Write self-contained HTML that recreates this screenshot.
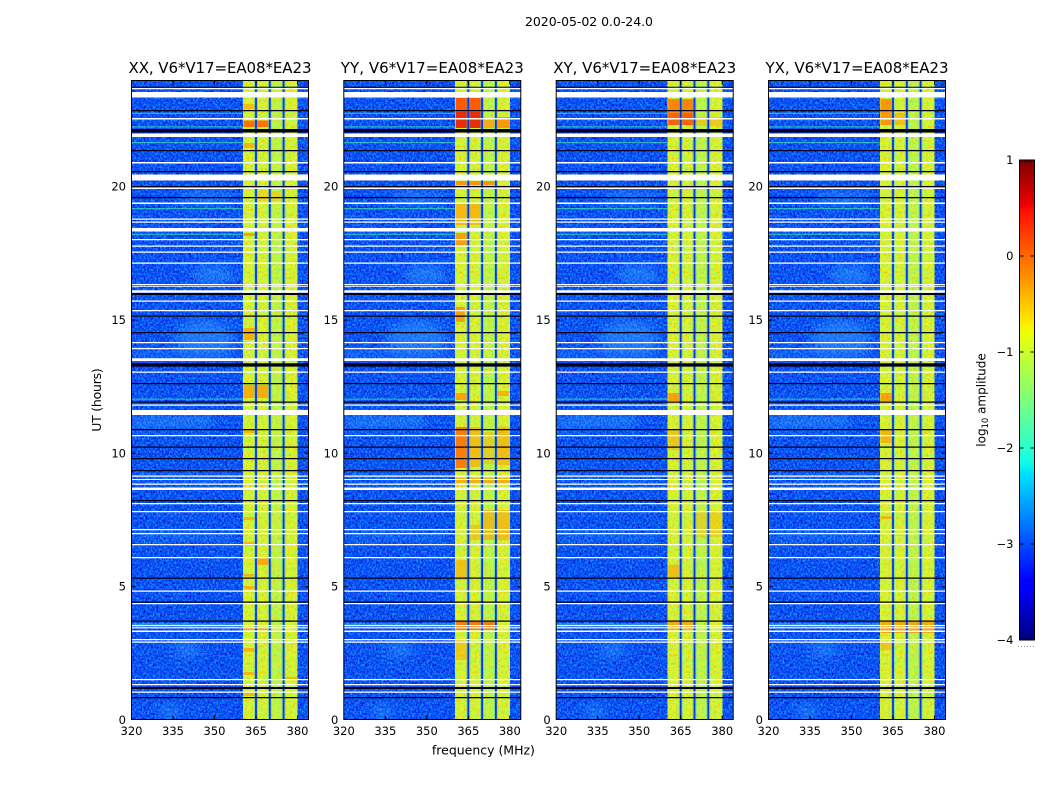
<!DOCTYPE html>
<html>
<head>
<meta charset="utf-8">
<style>
html,body{margin:0;padding:0;background:#fff;}
svg{display:block;}
text{font-family:"DejaVu Sans","Liberation Sans",sans-serif;}
</style>
</head>
<body>
<svg width="1050" height="800" viewBox="0 0 1050 800" xmlns="http://www.w3.org/2000/svg">
<defs>
  <clipPath id="cp"><rect x="0" y="80" width="177" height="640"/></clipPath>
  <filter id="fb" x="0" y="0" width="1" height="1" color-interpolation-filters="sRGB">
    <feTurbulence type="fractalNoise" baseFrequency="0.55 0.45" numOctaves="2" seed="7" result="t"/>
    <feColorMatrix in="t" type="matrix" values="0 0 0 0 0.08  0 0 0 0 0.62  0 0 0 0 1  3.2 0 0 0 -1.42" result="light"/>
    <feColorMatrix in="t" type="matrix" values="0 0 0 0 0  0 0 0 0 0  0 0 0 0 0.72  0 3.2 0 0 -1.6" result="dark"/>
    <feFlood flood-color="#0a46f8" result="base"/>
    <feComposite in="dark" in2="base" operator="over" result="b2"/>
    <feComposite in="light" in2="b2" operator="over"/>
  </filter>
  <filter id="fy" x="0" y="0" width="1" height="1" color-interpolation-filters="sRGB">
    <feTurbulence type="fractalNoise" baseFrequency="0.5 0.35" numOctaves="2" seed="3" result="t"/>
    <feColorMatrix in="t" type="matrix" values="0 0 0 0 0.55  0 0 0 0 1  0 0 0 0 0.45  3 0 0 0 -1.3" result="g"/>
    <feColorMatrix in="t" type="matrix" values="0 0 0 0 1  0 0 0 0 0.75  0 0 0 0 0  0 3 0 0 -1.5" result="o"/>
    <feFlood flood-color="#e3f426" result="base"/>
    <feComposite in="g" in2="base" operator="over" result="b2"/>
    <feComposite in="o" in2="b2" operator="over"/>
  </filter>
  <filter id="bl" x="-50%" y="-50%" width="200%" height="200%"><feGaussianBlur stdDeviation="5"/></filter>
  <linearGradient id="jet" x1="0" y1="1" x2="0" y2="0">
    <stop offset="0" stop-color="#000080"/>
    <stop offset="0.11" stop-color="#0000ff"/>
    <stop offset="0.125" stop-color="#0000ff"/>
    <stop offset="0.34" stop-color="#00dbff"/>
    <stop offset="0.35" stop-color="#00e6f7"/>
    <stop offset="0.375" stop-color="#15ffe2"/>
    <stop offset="0.64" stop-color="#efff08"/>
    <stop offset="0.65" stop-color="#f7f500"/>
    <stop offset="0.66" stop-color="#ffec00"/>
    <stop offset="0.89" stop-color="#ff1300"/>
    <stop offset="0.91" stop-color="#e80000"/>
    <stop offset="1" stop-color="#800000"/>
  </linearGradient>

  <g id="bg">
    <rect x="0" y="80" width="177" height="640" fill="#0a46f8" filter="url(#fb)"/>
    <g clip-path="url(#cp)">
      <g filter="url(#bl)" fill="#3aa8ff" opacity=".45">
        <ellipse cx="73" cy="338" rx="30" ry="18"/>
        <ellipse cx="82" cy="275" rx="22" ry="9"/>
        <ellipse cx="75" cy="198" rx="28" ry="6"/>
        <ellipse cx="55" cy="650" rx="14" ry="7"/>
        <ellipse cx="38" cy="712" rx="12" ry="6"/>
        <rect x="0" y="416" width="80" height="12"/>
        <rect x="0" y="352" width="105" height="5"/>
        <rect x="0" y="535" width="100" height="5"/>
        <rect x="0" y="476" width="105" height="5"/>
      </g>
    </g>
    <rect x="111.6" y="80" width="54.4" height="640" fill="#e3f426" filter="url(#fy)"/>
    <rect x="139.3" y="80" width="11.8" height="640" fill="#70ff90" opacity=".2"/>
  </g>

  <g id="ov">
    <g fill="#30c8ff" opacity=".45">
      <rect x="122.5" y="80" width="4" height="640"/>
      <rect x="136.3" y="80" width="4" height="640"/>
      <rect x="150.1" y="80" width="4" height="640"/>
    </g>
    <g fill="#0a34e0">
      <rect x="123.6" y="80" width="1.8" height="640"/>
      <rect x="137.4" y="80" width="1.8" height="640"/>
      <rect x="151.2" y="80" width="1.8" height="640"/>
    </g>
    <g fill="#40e0b0" opacity=".7">
      <rect x="0" y="112.7" width="111" height="1.2"/>
      <rect x="0" y="126.3" width="111" height="1.2"/>
      <rect x="0" y="142" width="111" height="1.2"/>
      <rect x="0" y="208" width="111" height="1.2"/>
      <rect x="0" y="233.7" width="111" height="1.2"/>
      <rect x="0" y="398.5" width="111" height="1.2"/>
      <rect x="0" y="623.5" width="111" height="1.2"/>
    </g>
    <path fill="#fff" d="M0 88h177v1.3H0z M0 92h177v5.5H0z M0 118h177v1.5H0z M0 133.5h177v3.5H0z M0 162h177v1.5H0z M0 174.5h177v6H0z M0 187.5h177v1.5H0z M0 202.5h177v1.5H0z M0 218.5h177v1.3H0z M0 221.5h177v1.3H0z M0 228h177v3.5H0z M0 239h177v1.3H0z M0 245.5h177v1.3H0z M0 251.5h177v1.3H0z M0 262.5h177v1.3H0z M0 284h177v1H0z M0 285.8h177v1H0z M0 290.3h177v2.5H0z M0 300.5h177v1.3H0z M0 310h177v1.3H0z M0 342h177v1.3H0z M0 348h177v1.3H0z M0 358.3h177v2.7H0z M0 371.5h177v1.3H0z M0 404.5h177v1.3H0z M0 410h177v5H0z M0 435h177v1.3H0z M0 475.5h177v1.3H0z M0 479h177v1H0z M0 483.5h177v1.3H0z M0 487.5h177v2.5H0z M0 503h177v1.3H0z M0 511h177v1.3H0z M0 529h177v1.3H0z M0 533h177v1.3H0z M0 544h177v1.3H0z M0 557h177v1.3H0z M0 590.5h177v1.3H0z M0 603h177v1.3H0z M0 625h177v1.2H0z M0 627.2h177v1.2H0z M0 630.5h177v1.5H0z M0 639h177v1.3H0z M0 641.5h177v1.2H0z M0 679h177v1.3H0z M0 684h177v1.3H0z M0 691.5h177v1.3H0z"/>
    <path fill="#00001a" d="M0 86.8h177v1H0z M0 110h177v1.2H0z M0 129h177v3.5H0z M0 150h177v1.2H0z M0 171h177v1.2H0z M0 186h177v1.2H0z M0 197h177v1.2H0z M0 293h177v2H0z M0 315.5h177v1.2H0z M0 332h177v1.2H0z M0 363.3h177v3.3H0z M0 383h177v1.2H0z M0 401.5h177v1.2H0z M0 429h177v1.2H0z M0 446.5h177v1.2H0z M0 458h177v1.2H0z M0 470h177v1.2H0z M0 500h177v1.2H0z M0 577.5h177v1.2H0z M0 601.5h177v1.2H0z M0 620.5h177v1.2H0z M0 687h177v2H0z M0 697h177v1.2H0z"/>
  </g>

  <g id="fr">
    <g fill="none" stroke="#000" stroke-width="1">
      <rect x="0" y="80.5" width="177" height="639"/>
      <path d="M41.5 80.5v4M83 80.5v4M124.5 80.5v4M166 80.5v4M41.5 719.5v-4M83 719.5v-4M124.5 719.5v-4M166 719.5v-4M0 586.7h4M0 453.3h4M0 320h4M0 186.7h4M177 586.7h-4M177 453.3h-4M177 320h-4M177 186.7h-4"/>
    </g>
    <g font-size="11.5" fill="#000">
      <text x="0" y="735" text-anchor="middle">320</text>
      <text x="41.5" y="735" text-anchor="middle">335</text>
      <text x="83" y="735" text-anchor="middle">350</text>
      <text x="124.5" y="735" text-anchor="middle">365</text>
      <text x="166" y="735" text-anchor="middle">380</text>
      <text x="-5.5" y="724" text-anchor="end">0</text>
      <text x="-5.5" y="590.7" text-anchor="end">5</text>
      <text x="-5.5" y="457.3" text-anchor="end">10</text>
      <text x="-5.5" y="324" text-anchor="end">15</text>
      <text x="-5.5" y="190.7" text-anchor="end">20</text>
    </g>
  </g>
</defs>

<rect x="0" y="0" width="1050" height="800" fill="#fff"/>

<text x="589" y="26" font-size="12.5" text-anchor="middle" textLength="128">2020-05-02 0.0-24.0</text>

<!-- Panel 1 XX -->
<g transform="translate(131.5,0)">
  <use href="#bg"/>
  <rect x="112" y="104" width="11.5" height="5" fill="#ffb000" opacity=".8"/>
  <rect x="112" y="120.5" width="25" height="6.5" fill="#ff7000"/>
  <rect x="112" y="143" width="11.5" height="5" fill="#ffa000" opacity=".7"/>
  <rect x="126" y="191" width="25" height="10" fill="#ffc000" opacity=".5"/>
  <rect x="112" y="233" width="11.5" height="3" fill="#ff9000" opacity=".8"/>
  <rect x="112" y="328" width="12" height="12" fill="#ffa000" opacity=".8"/>
  <rect x="112" y="385" width="25" height="13" fill="#ff9800" opacity=".75"/>
  <rect x="112" y="430" width="11.5" height="3" fill="#ffa000" opacity=".7"/>
  <rect x="112" y="517" width="11.5" height="3" fill="#ffa000" opacity=".7"/>
  <rect x="112" y="542" width="11.5" height="4" fill="#ffa000" opacity=".7"/>
  <rect x="126" y="558" width="11.5" height="7" fill="#ff9800" opacity=".8"/>
  <rect x="112" y="574" width="11.5" height="2.5" fill="#ff9800" opacity=".7"/>
  <rect x="112" y="586" width="11.5" height="3" fill="#ff9800" opacity=".7"/>
  <rect x="112" y="627" width="25" height="3" fill="#ff9000" opacity=".8"/>
  <rect x="112" y="648" width="11.5" height="4" fill="#ffa000" opacity=".7"/>
  <rect x="112" y="672" width="11.5" height="3" fill="#ffa000" opacity=".7"/>
  <rect x="112" y="692" width="11.5" height="4" fill="#ffa000" opacity=".7"/>
  <rect x="153" y="677" width="12.5" height="2.5" fill="#ffa000" opacity=".7"/>
  <use href="#ov"/>
  <use href="#fr"/>
  <text x="88.5" y="73" font-size="15" text-anchor="middle" textLength="183">XX, V6*V17=EA08*EA23</text>
</g>

<!-- Panel 2 YY -->
<g transform="translate(343.8,0)">
  <use href="#bg"/>
  <rect x="112" y="98" width="25.5" height="30" fill="#ff5a00"/>
  <rect x="112" y="112" width="25.5" height="16" fill="#e52000" opacity=".8"/>
  <rect x="139.5" y="118" width="11.5" height="10" fill="#ffa000" opacity=".85"/>
  <rect x="153" y="117" width="13" height="11" fill="#ff8800" opacity=".85"/>
  <rect x="112" y="181" width="39" height="4" fill="#ff8800" opacity=".85"/>
  <rect x="112" y="203" width="25.5" height="22" fill="#ffa800" opacity=".75"/>
  <rect x="112" y="233" width="11.5" height="12" fill="#ff9000" opacity=".85"/>
  <rect x="112" y="307" width="9" height="15" fill="#ff8c00" opacity=".8"/>
  <rect x="112" y="393" width="11.5" height="7" fill="#ff9000" opacity=".8"/>
  <rect x="153" y="391" width="12" height="5" fill="#ff9800" opacity=".7"/>
  <rect x="112" y="427" width="11.5" height="41" fill="#ff6a00" opacity=".85"/>
  <rect x="126" y="427" width="11.5" height="40" fill="#ffa000" opacity=".6"/>
  <rect x="139.5" y="432" width="11.5" height="32" fill="#ffb000" opacity=".5"/>
  <rect x="153" y="427" width="13" height="38" fill="#ffa000" opacity=".6"/>
  <rect x="112" y="478" width="54" height="5" fill="#ff9800" opacity=".7"/>
  <rect x="139.5" y="510" width="26.5" height="30" fill="#ffa000" opacity=".6"/>
  <rect x="126" y="525" width="11.5" height="15" fill="#ffa800" opacity=".5"/>
  <rect x="112" y="560" width="11.5" height="20" fill="#ffa000" opacity=".55"/>
  <rect x="112" y="621" width="39" height="9" fill="#ff6000" opacity=".8"/>
  <rect x="112" y="640" width="11.5" height="20" fill="#ffa800" opacity=".5"/>
  <use href="#ov"/>
  <use href="#fr"/>
  <text x="88.5" y="73" font-size="15" text-anchor="middle" textLength="183">YY, V6*V17=EA08*EA23</text>
</g>

<!-- Panel 3 XY -->
<g transform="translate(556.2,0)">
  <use href="#bg"/>
  <rect x="112" y="99" width="25.5" height="26" fill="#ff7a00" opacity=".9"/>
  <rect x="112" y="113" width="25.5" height="12" fill="#ff4a00" opacity=".6"/>
  <rect x="139.5" y="117" width="26.5" height="9" fill="#ffb000" opacity=".6"/>
  <rect x="112" y="393" width="11.5" height="8" fill="#ff9000" opacity=".8"/>
  <rect x="112" y="430" width="11.5" height="20" fill="#ffa000" opacity=".5"/>
  <rect x="139.5" y="512" width="26.5" height="25" fill="#ffb000" opacity=".45"/>
  <rect x="112" y="565" width="11.5" height="12" fill="#ffa000" opacity=".6"/>
  <rect x="112" y="622" width="25.5" height="8" fill="#ff9000" opacity=".7"/>
  <use href="#ov"/>
  <use href="#fr"/>
  <text x="88.5" y="73" font-size="15" text-anchor="middle" textLength="183">XY, V6*V17=EA08*EA23</text>
</g>

<!-- Panel 4 YX -->
<g transform="translate(768.5,0)">
  <use href="#bg"/>
  <rect x="112" y="99" width="11.5" height="26" fill="#ff8a00" opacity=".85"/>
  <rect x="126" y="113" width="11.5" height="12" fill="#ffa000" opacity=".6"/>
  <rect x="112" y="393" width="11.5" height="8" fill="#ff9000" opacity=".8"/>
  <rect x="112" y="430" width="11.5" height="13" fill="#ffa000" opacity=".7"/>
  <rect x="112" y="516" width="11.5" height="3" fill="#ffa000" opacity=".7"/>
  <rect x="112" y="622" width="54" height="11" fill="#ff9000" opacity=".75"/>
  <rect x="112" y="642" width="11.5" height="8" fill="#ffa000" opacity=".5"/>
  <use href="#ov"/>
  <use href="#fr"/>
  <text x="88.5" y="73" font-size="15" text-anchor="middle" textLength="183">YX, V6*V17=EA08*EA23</text>
</g>

<!-- Axis labels -->
<text x="483.4" y="754.5" font-size="12.5" text-anchor="middle" textLength="103">frequency (MHz)</text>
<text transform="translate(101,400) rotate(-90)" x="0" y="0" font-size="12.5" text-anchor="middle" textLength="63.5">UT (hours)</text>

<!-- Colorbar -->
<rect x="1019.5" y="160" width="15" height="480" fill="url(#jet)" stroke="#000" stroke-width="1"/>
<g stroke="#000" stroke-width="1" fill="none">
  <path d="M1019.5 256h4M1019.5 352h4M1019.5 448h4M1019.5 544h4M1034.5 256h-4M1034.5 352h-4M1034.5 448h-4M1034.5 544h-4"/>
  <path d="M1022 160v3M1025 160v3M1028 160v3M1031 160v3M1022 640v-3M1025 640v-3M1028 640v-3M1031 640v-3" stroke-width=".7"/>
</g>
<path d="M1018 646.5h16" stroke="#999" stroke-width="1" stroke-dasharray="1 2"/>
<g font-size="11.5" fill="#000" text-anchor="end">
  <text x="1013.5" y="164">1</text>
  <text x="1013.5" y="260">0</text>
  <text x="1013.5" y="356">−1</text>
  <text x="1013.5" y="452">−2</text>
  <text x="1013.5" y="548">−3</text>
  <text x="1013.5" y="644">−4</text>
</g>
<text transform="translate(985.5,400) rotate(-90)" x="0" y="0" font-size="12" text-anchor="middle">log<tspan font-size="8.4" dy="2.5">10</tspan><tspan dy="-2.5"> amplitude</tspan></text>
</svg>
</body>
</html>
